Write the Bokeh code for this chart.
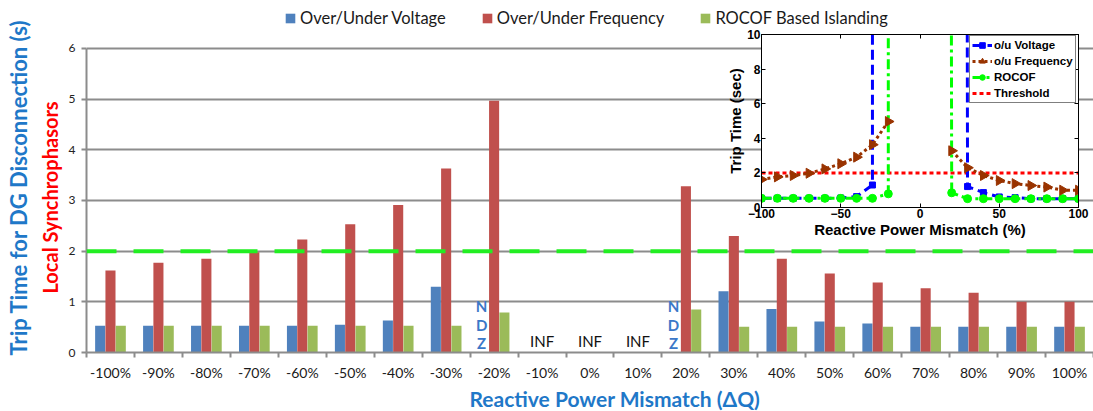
import math
from bokeh.plotting import figure
from bokeh.models import (ColumnDataSource, Range1d, LinearAxis, FixedTicker, Span, Legend,
                          LegendItem, Title)
from bokeh.transform import dodge
from bokeh.embed import file_html
from bokeh.resources import INLINE
from bokeh.core.properties import value

NAN = float("nan")

# ---------------- data ----------------
categories = ["-100%", "-90%", "-80%", "-70%", "-60%", "-50%", "-40%", "-30%", "-20%", "-10%",
              "0%", "10%", "20%", "30%", "40%", "50%", "60%", "70%", "80%", "90%", "100%"]
mismatch_pct = [-100, -90, -80, -70, -60, -50, -40, -30, -20, -10, 0, 10, 20, 30, 40, 50, 60, 70, 80, 90, 100]
voltage_trip = [0.53, 0.53, 0.53, 0.53, 0.53, 0.55, 0.63, 1.30, NAN, NAN, NAN, NAN, NAN,
                1.21, 0.86, 0.61, 0.57, 0.51, 0.51, 0.51, 0.51]
frequency_trip = [1.62, 1.77, 1.85, 1.98, 2.23, 2.53, 2.91, 3.63, 4.97, NAN, NAN, NAN, 3.28,
                  2.30, 1.85, 1.56, 1.38, 1.27, 1.18, 1.00, 1.00]
rocof_trip = [0.53, 0.53, 0.53, 0.53, 0.53, 0.53, 0.53, 0.53, 0.79, NAN, NAN, NAN, 0.85,
              0.51, 0.51, 0.51, 0.51, 0.51, 0.51, 0.51, 0.51]
threshold = 2.0
y_ticks = [0, 1, 2, 3, 4, 5, 6]
ndz_categories = ["-20%", "20%"]
inf_categories = ["-10%", "0%", "10%"]
series_labels = ["Over/Under Voltage", "Over/Under Frequency", "ROCOF Based Islanding"]

# inset (MATLAB) data; NO_TRIP marks the asymptote where trip time -> infinity
NO_TRIP = 50.0
inset_x_ticks = [-100, -50, 0, 50, 100]
inset_y_ticks = [0, 2, 4, 6, 8, 10]
inset_volt_x = [-100, -90, -80, -70, -60, -50, -40, -30, -30, NAN, 29, 30, 40, 50, 60, 70, 80, 90, 100]
inset_volt_y = [0.53, 0.53, 0.53, 0.53, 0.53, 0.55, 0.63, 1.30, NO_TRIP, NAN, NO_TRIP, 1.21, 0.86,
                0.61, 0.57, 0.51, 0.51, 0.51, 0.51]
inset_rocof_x = [-100, -90, -80, -70, -60, -50, -40, -30, -20, -20, NAN, 19, 20, 30, 40, 50, 60, 70, 80, 90, 100]
inset_rocof_y = [0.53, 0.53, 0.53, 0.53, 0.53, 0.53, 0.53, 0.53, 0.79, NO_TRIP, NAN, NO_TRIP, 0.85,
                 0.51, 0.51, 0.51, 0.51, 0.51, 0.51, 0.51, 0.51]
inset_labels = ["o/u Voltage", "o/u Frequency", "ROCOF", "Threshold"]

# ---------------- styles ----------------
V_COL, F_COL, R_COL = "#4F81BD", "#C0504D", "#9BBB59"
GRID = "#8c8c8c"
TITLE_BLUE = "#1f78c8"
FONT = "Lato"
MAIN_W, MAIN_H = 1093, 411
Y_VIEW_TOP = 6.947   # frame extends above the 6 s gridline to hold the legend row

n = len(categories)
centers = [i + 0.5 for i in range(n)]          # slot centres on the numeric category scale
boundaries = list(range(n + 1))                # slot edges (where Excel draws its ticks)

p = figure(x_range=Range1d(0, n), y_range=Range1d(0, Y_VIEW_TOP),
           width=MAIN_W, height=MAIN_H, output_backend="svg", toolbar_location=None,
           x_axis_location=None, min_border_left=86, min_border_right=0,
           min_border_top=0, min_border_bottom=59, outline_line_color=None)

ya = p.yaxis[0]
ya.ticker = FixedTicker(ticks=y_ticks)
ya.bounds = (y_ticks[0], y_ticks[-1])
ya.axis_line_color = GRID
ya.axis_line_width = 2
ya.major_tick_line_color = GRID
ya.major_tick_line_width = 2
ya.major_tick_out = 5
ya.major_tick_in = 0
ya.minor_tick_line_color = None
ya.major_label_text_font = FONT
ya.major_label_text_font_size = "12px"
ya.major_label_text_color = "#222222"
ya.major_label_standoff = 6

p.ygrid.grid_line_color = GRID
p.ygrid.grid_line_width = 2
p.xgrid.visible = False

slot_axis = LinearAxis(ticker=FixedTicker(ticks=boundaries),
                       major_label_overrides={t: "" for t in boundaries},
                       axis_line_color=GRID, axis_line_width=2,
                       major_tick_line_color=GRID, major_tick_line_width=2,
                       major_tick_out=5, major_tick_in=0, minor_tick_line_color=None,
                       major_label_text_font_size="0px", major_label_standoff=0)
p.add_layout(slot_axis, "below")
cat_axis = LinearAxis(ticker=FixedTicker(ticks=centers),
                      major_label_overrides=dict(zip(centers, categories)),
                      axis_line_color=None, major_tick_line_color=None,
                      major_tick_out=0, major_tick_in=0, minor_tick_line_color=None,
                      major_label_text_font=FONT, major_label_text_font_size="14px",
                      major_label_text_color="#1a1a1a", major_label_standoff=6)
p.add_layout(cat_axis, "below")
p.add_layout(Title(text="Reactive Power Mismatch (ΔQ)", align="left", offset=383,
                   text_font=FONT, text_font_size="21px", text_font_style="bold",
                   text_color=TITLE_BLUE, standoff=0), "below")

p.add_layout(Title(text="Local Synchrophasors", align="left", offset=59,
                   text_font=FONT, text_font_size="20px", text_font_style="bold",
                   text_color="#ff0000", standoff=7), "left")
p.add_layout(Title(text="Trip Time for DG Disconnection (s)", align="left", offset=-3,
                   text_font=FONT, text_font_size="22px", text_font_style="bold",
                   text_color=TITLE_BLUE, standoff=2), "left")

src = ColumnDataSource(dict(xc=centers, v=voltage_trip, f=frequency_trip, r=rocof_trip))
BW = 0.21
rv = p.vbar(x=dodge("xc", -0.215), top="v", width=BW, source=src, fill_color=V_COL, line_color=None)
rf = p.vbar(x=dodge("xc", 0.0), top="f", width=BW, source=src, fill_color=F_COL, line_color=None)
rr = p.vbar(x=dodge("xc", 0.215), top="r", width=BW, source=src, fill_color=R_COL, line_color=None)

p.add_layout(Span(location=threshold, dimension="width", line_color="#22ee22",
                  line_width=4, line_dash="30 17"))

ndz_src = ColumnDataSource(dict(xc=[centers[categories.index(c)] for c in ndz_categories],
                                y=[0] * len(ndz_categories),
                                t=["N\nD\nZ"] * len(ndz_categories)))
p.text(x=dodge("xc", -0.26), y="y", text="t", source=ndz_src,
       text_font=value(FONT), text_font_style="bold", text_font_size="15px",
       text_color="#3b78c8", text_align="center", text_baseline="bottom",
       text_line_height=1.03)
inf_src = ColumnDataSource(dict(xc=[centers[categories.index(c)] for c in inf_categories],
                                y=[0] * len(inf_categories),
                                t=["INF"] * len(inf_categories)))
p.text(x="xc", y="y", text="t", source=inf_src, text_font=value(FONT),
       text_font_size="15px", text_color="#111111", text_align="center",
       text_baseline="alphabetic", y_offset=-12)

main_leg = Legend(items=[LegendItem(label=lab, renderers=[r])
                         for r, lab in zip([rv, rf, rr], series_labels)],
                  location=(198, 324), orientation="horizontal", spacing=35,
                  border_line_color=None, background_fill_alpha=0,
                  glyph_width=12, glyph_height=12, label_standoff=4, padding=0, margin=0,
                  label_text_font=FONT, label_text_font_size="16.5px",
                  label_text_color="#1a1a1a", label_height=12)
p.add_layout(main_leg)

# ---------------- inset (separate root, laid over the bar chart) ----------------
IFONT = "Liberation Sans"
BROWN = "#993300"
ins = figure(x_range=Range1d(-100, 100), y_range=Range1d(0, 10), frame_width=317, frame_height=173,
             output_backend="svg", toolbar_location=None, min_border_left=37, min_border_right=12,
             min_border_top=6, min_border_bottom=30, background_fill_color="white",
             border_fill_color=None, outline_line_color="black")
ins.styles = {"position": "absolute", "left": "724px", "top": "28px", "z-index": "5"}
ins.grid.visible = False
ins.xaxis.ticker = FixedTicker(ticks=inset_x_ticks)
ins.yaxis.ticker = FixedTicker(ticks=inset_y_ticks)
ins.xaxis.axis_label = "Reactive Power Mismatch (%)"
ins.yaxis.axis_label = "Trip Time (sec)"
for ax in ins.axis:
    ax.major_tick_in = 4
    ax.major_tick_out = 0
    ax.minor_tick_line_color = None
    ax.axis_line_color = "black"
    ax.major_tick_line_color = "black"
    ax.major_label_text_font = IFONT
    ax.major_label_text_font_style = "bold"
    ax.major_label_text_font_size = "12px"
    ax.major_label_text_color = "black"
    ax.major_label_standoff = 1
    ax.axis_label_text_font = IFONT
    ax.axis_label_text_font_style = "bold"
    ax.axis_label_text_font_size = "15px"
    ax.axis_label_text_color = "black"
    ax.axis_label_standoff = 0
ins.add_layout(LinearAxis(ticker=FixedTicker(ticks=inset_x_ticks),
                          major_label_overrides={t: "" for t in inset_x_ticks},
                          major_label_text_font_size="0px", major_tick_in=4, major_tick_out=0,
                          minor_tick_line_color=None, axis_line_color="black",
                          major_label_standoff=0), "above")
ins.add_layout(LinearAxis(ticker=FixedTicker(ticks=inset_y_ticks),
                          major_label_overrides={t: "" for t in inset_y_ticks},
                          major_label_text_font_size="0px", major_tick_in=4, major_tick_out=0,
                          minor_tick_line_color=None, axis_line_color="black",
                          major_label_standoff=0), "right")

thr = ins.line(x=[mismatch_pct[0], mismatch_pct[-1]], y=[threshold, threshold],
               line_color="#ff0000", line_width=3, line_dash="4 3")
bl = ins.line(inset_volt_x, inset_volt_y, line_color="#0000ff", line_width=3, line_dash="10 5")
bm = ins.scatter(mismatch_pct, voltage_trip, marker="square", size=6, color="#0000ff")
gl = ins.line(inset_rocof_x, inset_rocof_y, line_color="#00ff00", line_width=3, line_dash="10 4 3 4")
gm = ins.scatter(mismatch_pct, rocof_trip, marker="circle", size=8, color="#00ff00")
fl = ins.line(mismatch_pct, frequency_trip, line_color=BROWN, line_width=3, line_dash="3 3")
fm = ins.scatter(mismatch_pct, frequency_trip, marker="triangle", size=10, angle=-math.pi / 2,
                 color=BROWN)

ileg = Legend(items=[LegendItem(label=inset_labels[0], renderers=[bl, bm]),
                     LegendItem(label=inset_labels[1], renderers=[fl, fm]),
                     LegendItem(label=inset_labels[2], renderers=[gl, gm]),
                     LegendItem(label=inset_labels[3], renderers=[thr])],
              location=(208, 104), border_line_color="black", border_line_width=1,
              background_fill_color="white", background_fill_alpha=1,
              glyph_width=20, glyph_height=14, label_height=14, spacing=2, padding=2, margin=0,
              label_standoff=2, label_text_font=IFONT, label_text_font_style="bold",
              label_text_font_size="11.5px", label_text_color="black")
ins.add_layout(ileg)

open("out.html", "w").write(file_html([p, ins], INLINE))
